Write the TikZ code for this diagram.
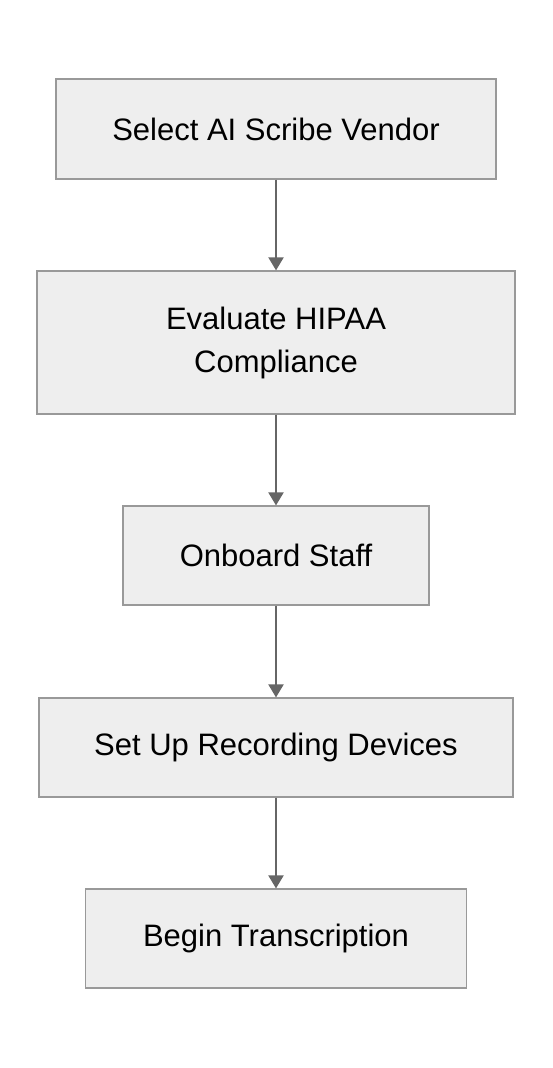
\documentclass[tikz,border=0pt]{standalone}
\usepackage{fontspec}
\setmainfont{Liberation Sans}
\usetikzlibrary{arrows.meta}
\definecolor{boxfill}{HTML}{EEEEEE}
\definecolor{boxline}{HTML}{999999}
\definecolor{arrowgray}{HTML}{666666}

\begin{document}
\begin{tikzpicture}[x=0.5pt, y=-0.5pt,
    stage/.style={draw=boxline, line width=0.6pt, fill=boxfill, inner sep=0pt,
        font=\fontsize{15.5pt}{21.5pt}\selectfont, align=center},
    flow/.style={draw=arrowgray, line width=1pt, -{Triangle[length=6.5pt, width=7.5pt]}}]
            \useasboundingbox (0,0) rectangle (552,1068);
            \node[stage, minimum width=220pt, minimum height=50pt] (vendor) at (276,129) {Select AI Scribe Vendor};
            \node[stage, minimum width=239pt, minimum height=71.5pt] (hipaa) at (276,342.5) {Evaluate HIPAA\\ Compliance};
            \node[stage, minimum width=153pt, minimum height=49.5pt] (staff) at (276,555.5) {Onboard Staff};
            \node[stage, minimum width=237pt, minimum height=49.5pt] (devices) at (276,747.5) {Set Up Recording Devices};
            \node[stage, minimum width=190.5pt, minimum height=49.5pt] (begin) at (276,938.5) {Begin Transcription};
            
            \draw[flow] (vendor) -- (hipaa);
            \draw[flow] (hipaa) -- (staff);
            \draw[flow] (staff) -- (devices);
            \draw[flow] (devices) -- (begin);
        \end{tikzpicture}
\end{document}
